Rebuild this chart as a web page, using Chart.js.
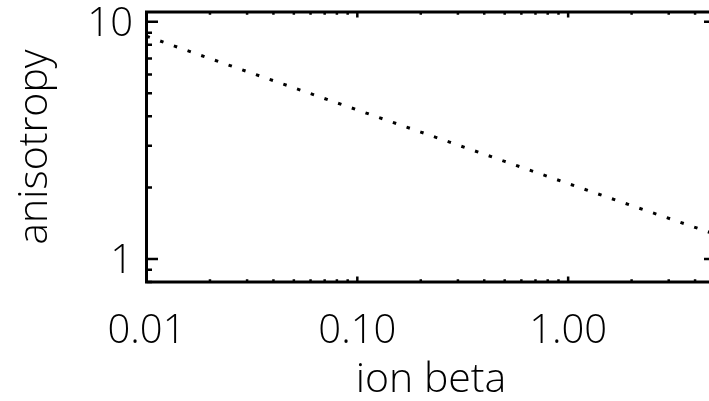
<!DOCTYPE html>
<html lang="en">
<head>
<meta charset="UTF-8">
<title>Anisotropy vs ion beta</title>
<script src="https://cdn.jsdelivr.net/npm/chart.js@4.4.1/dist/chart.umd.min.js"></script>
<style>
  html, body { margin: 0; padding: 0; background: #fff; overflow: hidden; }
  #wrap { width: 730px; height: 401px; }
</style>
</head>
<body>
<div id="wrap"><canvas id="chart" width="730" height="401"></canvas></div>
<script>
// values (log-log)
const betaValues = [0.01, 0.02, 0.05, 0.1, 0.2, 0.5, 1, 2, 5];
const anisotropyValues = [8.7, 7.0, 5.27, 4.25, 3.43, 2.58, 2.08, 1.68, 1.27];

const xTickValues = [0.01, 0.1, 1];
const xTickLabels = ['0.01', '0.10', '1.00'];
const yTickValues = [1, 10];
const yTickLabels = ['1', '10'];

function logSteps(min, max) {
    const out = [];
    for (let e = Math.floor(Math.log10(min)); e <= Math.ceil(Math.log10(max)); e++) {
        for (let m = 1; m <= 9; m++) {
            const v = Number((m * Math.pow(10, e)).toPrecision(6));
            if (v >= min && v <= max) out.push(v);
        }
    }
    return out;
}

function isDecade(v) {
    const l = Math.log10(v);
    return Math.abs(l - Math.round(l)) < 1e-9;
}

// IDL style box with inward ticks on all four sides
const frameTicks = {
    id: 'frameTicks',
    afterDatasetsDraw(chart) {
        const { ctx, chartArea: a, scales: { x, y } } = chart;
        ctx.save();
        ctx.strokeStyle = '#000';
        ctx.lineWidth = 2.5;
        ctx.beginPath();
        logSteps(x.min, x.max).forEach(v => {
            const px = x.getPixelForValue(v);
            const len = isDecade(v) ? 5.5 : 2.8;
            ctx.moveTo(px, a.bottom); ctx.lineTo(px, a.bottom - len);
            ctx.moveTo(px, a.top); ctx.lineTo(px, a.top + len);
        });
        logSteps(y.min, y.max).forEach(v => {
            const py = y.getPixelForValue(v);
            const len = isDecade(v) ? 11.5 : 5.5;
            ctx.moveTo(a.left, py); ctx.lineTo(a.left + len, py);
            ctx.moveTo(a.right, py); ctx.lineTo(a.right - len, py);
        });
        ctx.stroke();
        ctx.lineWidth = 3;
        ctx.strokeRect(a.left, a.top, a.right - a.left, a.bottom - a.top);
        ctx.restore();
    }
};

const tickFont = { family: "'Open Sans', 'Liberation Sans', sans-serif", size: 40, weight: 300 };
const titleFont = { family: "'Open Sans', 'DejaVu Sans', sans-serif", size: 41, weight: 300, lineHeight: 1 };

new Chart(document.getElementById('chart'), {
    type: 'line',
    data: {
        datasets: [{
            data: betaValues.map((b, i) => ({ x: b, y: anisotropyValues[i] })),
            borderColor: '#000',
            borderWidth: 3,
            borderDash: [3.5, 11],
            pointRadius: 0,
            tension: 0,
            fill: false
        }]
    },
    options: {
        responsive: false,
        animation: false,
        devicePixelRatio: 1,
        layout: { padding: { top: 12, right: 14.5, left: 0, bottom: 0 } },
        plugins: { legend: { display: false }, tooltip: { enabled: false } },
        scales: {
            x: {
                type: 'logarithmic',
                min: 0.01,
                max: 5,
                grid: { display: false, drawTicks: false },
                border: { display: false },
                afterBuildTicks: s => { s.ticks = xTickValues.map(v => ({ value: v })); },
                ticks: {
                    padding: 26,
                    maxRotation: 0,
                    autoSkip: false,
                    color: '#000',
                    font: tickFont,
                    callback: (v, i) => xTickLabels[i]
                },
                title: {
                    display: true,
                    text: 'ion beta',
                    color: '#000',
                    font: titleFont,
                    padding: { top: 0, bottom: 0 }
                },
                afterFit: s => {
                    s.height = 119;
                    s.paddingLeft = 0;
                    s.paddingRight = 0;
                }
            },
            y: {
                type: 'logarithmic',
                min: 0.8,
                max: 11,
                grid: { display: false, drawTicks: false },
                border: { display: false },
                afterBuildTicks: s => { s.ticks = yTickValues.map(v => ({ value: v })); },
                ticks: {
                    padding: 13.5,
                    labelOffset: 2.5,
                    autoSkip: false,
                    color: '#000',
                    font: tickFont,
                    callback: (v, i) => yTickLabels[i]
                },
                title: {
                    display: true,
                    text: 'anisotropy',
                    color: '#000',
                    font: titleFont,
                    padding: { top: 15, bottom: 0 }
                },
                afterFit: s => {
                    s.width = 146.5;
                    s.paddingTop = 0;
                    s.paddingBottom = 0;
                }
            }
        }
    },
    plugins: [frameTicks]
});
</script>
</body>
</html>
